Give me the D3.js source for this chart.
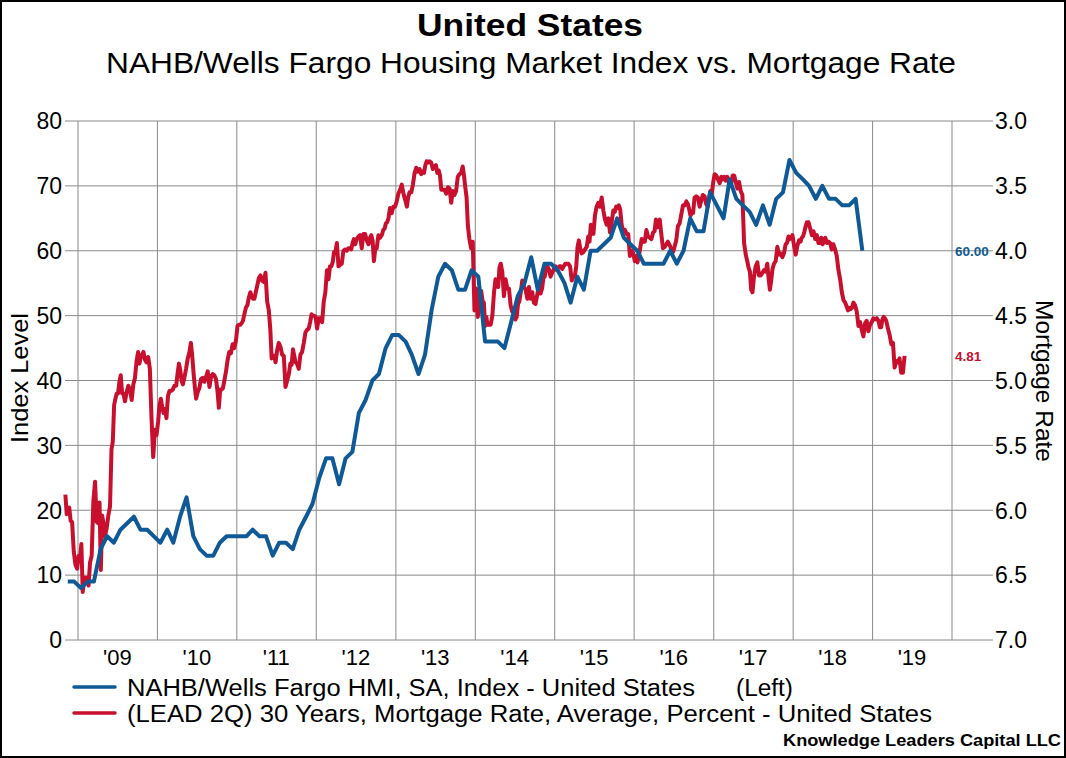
<!DOCTYPE html>
<html>
<head>
<meta charset="utf-8">
<script src="https://cdn.jsdelivr.net/npm/d3@7"></script>
<style>
  body { margin: 0; background: #fff; }
  svg { display: block; font-family: "Liberation Sans", Arial, sans-serif; }
</style>
</head>
<body>
<div id="chart"></div>
<script>
// NAHB/Wells Fargo HMI, SA, monthly, Nov 2008 .. Nov 2018
const hmiStart = "2008-11";
const hmi = [
  9, 9,
  8, 9, 9, 14, 16, 15, 17, 18, 19, 17, 17, 16,
  15, 17, 15, 19, 22, 16, 14, 13, 13, 15, 16, 16,
  16, 16, 17, 16, 16, 13, 15, 15, 14, 17, 19, 21,
  25, 28, 28, 24, 28, 29, 35, 37, 40, 41, 45, 47,
  47, 46, 44, 41, 44, 51, 56, 58, 57, 54, 54, 57,
  56, 46, 46, 46, 45, 49, 53, 55, 59, 54, 58, 58,
  57, 55, 52, 56, 54, 60, 60, 61, 62, 65, 62, 61,
  60, 58, 58, 58, 58, 60, 58, 60, 65, 63, 63, 69,
  67, 65, 71, 68, 67, 66, 64, 67, 64, 68, 69, 74,
  72, 71, 70, 68, 70, 68, 68, 67, 67, 68, 60
];

// 30y mortgage rate, weekly readings grouped by month, May 2008 .. Nov 2018
// (plotted with a 2 quarter lead)
const rateStart = "2008-05";
const rateLeadMonths = 6;
const rates = [
  [5.88, 6.03, 6.01, 5.98, 6.08], [6.09, 6.32, 6.42, 6.45], [6.35, 6.37, 6.26, 6.63, 6.52],
  [6.52, 6.52, 6.58, 6.40], [6.35, 5.93, 5.78, 6.09], [6.10, 5.94, 6.46, 6.04, 6.10],
  [6.20, 6.14, 6.04, 5.97], [5.53, 5.47, 5.19, 5.14, 5.10],
  // 2009
  [5.10, 5.01, 4.96, 5.10, 5.10], [5.16, 5.09, 5.04, 5.07], [5.15, 5.03, 4.98, 4.85],
  [4.78, 4.87, 4.82, 4.80, 4.78], [4.84, 4.86, 4.82, 4.91], [5.29, 5.59, 5.38, 5.42],
  [5.32, 5.20, 5.14, 5.20, 5.25], [5.22, 5.29, 5.12, 5.08], [5.08, 5.07, 5.04, 5.04],
  [4.94, 4.87, 4.92, 5.00, 5.03], [4.98, 4.91, 4.83, 4.78], [4.71, 4.81, 4.94, 5.05, 5.14],
  // 2010
  [5.09, 5.06, 4.99, 4.98], [5.01, 4.97, 4.93, 5.05], [4.97, 4.95, 4.96, 4.99],
  [5.08, 5.21, 5.07, 5.07, 5.06], [5.00, 4.93, 4.84, 4.78], [4.79, 4.72, 4.75, 4.69],
  [4.58, 4.57, 4.57, 4.56, 4.54], [4.49, 4.44, 4.42, 4.36], [4.32, 4.35, 4.37, 4.37, 4.32],
  [4.27, 4.21, 4.19, 4.23], [4.24, 4.17, 4.39, 4.46], [4.61, 4.83, 4.81, 4.81, 4.86],
  // 2011
  [4.77, 4.71, 4.74, 4.80], [4.81, 5.05, 5.00, 4.95], [4.87, 4.88, 4.76, 4.81, 4.86],
  [4.87, 4.91, 4.80, 4.78], [4.71, 4.63, 4.61, 4.60], [4.55, 4.49, 4.50, 4.50, 4.51],
  [4.60, 4.52, 4.52, 4.55], [4.39, 4.32, 4.15, 4.22], [4.12, 4.12, 4.09, 4.01, 4.01],
  [3.94, 4.12, 4.11, 4.10], [4.00, 3.99, 4.00, 3.98], [3.98, 3.99, 3.94, 3.91, 3.95],
  // 2012
  [3.91, 3.89, 3.88, 3.98], [3.87, 3.87, 3.92, 3.95], [3.90, 3.88, 3.92, 4.08, 3.99],
  [3.98, 3.88, 3.90, 3.88], [3.84, 3.83, 3.79, 3.78, 3.75], [3.67, 3.71, 3.66, 3.66],
  [3.62, 3.56, 3.53, 3.49], [3.55, 3.59, 3.62, 3.66, 3.59], [3.55, 3.55, 3.49, 3.40],
  [3.36, 3.39, 3.37, 3.41], [3.39, 3.40, 3.34, 3.31, 3.32], [3.31, 3.32, 3.37, 3.35],
  // 2013
  [3.34, 3.40, 3.38, 3.42, 3.53], [3.53, 3.53, 3.56, 3.51], [3.52, 3.63, 3.54, 3.57],
  [3.54, 3.43, 3.41, 3.40], [3.35, 3.42, 3.51, 3.59, 3.81], [3.91, 3.98, 3.93, 4.46],
  [4.29, 4.51, 4.37, 4.31], [4.39, 4.40, 4.58, 4.51, 4.57], [4.57, 4.57, 4.50, 4.32],
  [4.22, 4.23, 4.28, 4.13, 4.10], [4.16, 4.35, 4.22, 4.29], [4.29, 4.42, 4.47, 4.48],
  // 2014
  [4.53, 4.51, 4.41, 4.39, 4.32], [4.23, 4.28, 4.30, 4.37], [4.28, 4.37, 4.32, 4.40],
  [4.41, 4.34, 4.27, 4.33], [4.29, 4.21, 4.20, 4.14, 4.12], [4.14, 4.20, 4.17, 4.14],
  [4.12, 4.15, 4.13, 4.12, 4.12], [4.14, 4.12, 4.10, 4.10], [4.10, 4.12, 4.23, 4.20],
  [4.19, 4.12, 3.97, 3.92, 3.98], [4.02, 4.01, 3.99, 3.97], [3.89, 3.93, 3.80, 3.83, 3.87],
  // 2015
  [3.73, 3.66, 3.63, 3.66], [3.59, 3.69, 3.76, 3.80], [3.75, 3.86, 3.78, 3.69],
  [3.70, 3.66, 3.67, 3.65, 3.68], [3.80, 3.85, 3.84, 3.87], [3.87, 4.04, 4.00, 4.02],
  [4.08, 4.04, 4.09, 4.04, 3.98], [3.91, 3.93, 3.93, 3.84], [3.89, 3.90, 3.91, 3.86],
  [3.85, 3.76, 3.82, 3.79, 3.76], [3.87, 3.98, 3.97, 3.95], [3.93, 3.95, 3.97, 4.01, 4.01],
  // 2016
  [3.97, 3.92, 3.81, 3.79], [3.72, 3.65, 3.65, 3.62], [3.64, 3.68, 3.73, 3.71, 3.71],
  [3.59, 3.58, 3.59, 3.66], [3.61, 3.57, 3.58, 3.64], [3.66, 3.60, 3.54, 3.56, 3.48],
  [3.41, 3.42, 3.45, 3.48], [3.43, 3.45, 3.43, 3.46], [3.43, 3.46, 3.50, 3.48, 3.42],
  [3.42, 3.47, 3.52, 3.47], [3.54, 3.57, 3.94, 4.03], [4.08, 4.13, 4.16, 4.30, 4.32],
  // 2017
  [4.20, 4.12, 4.09, 4.19], [4.19, 4.17, 4.15, 4.16], [4.10, 4.21, 4.30, 4.23, 4.14],
  [4.10, 4.08, 3.97, 4.03], [4.02, 4.05, 4.02, 3.95], [3.94, 3.89, 3.91, 3.90, 3.88],
  [3.96, 4.03, 3.96, 3.92], [3.93, 3.90, 3.89, 3.86, 3.82], [3.78, 3.78, 3.83, 3.88],
  [3.85, 3.91, 3.88, 3.94], [3.94, 3.90, 3.95, 3.92, 3.90], [3.94, 3.93, 3.94, 3.99],
  // 2018
  [3.95, 3.99, 4.04, 4.15], [4.22, 4.32, 4.38, 4.40], [4.43, 4.46, 4.44, 4.45, 4.44],
  [4.40, 4.42, 4.47, 4.58], [4.55, 4.61, 4.66, 4.56], [4.54, 4.62, 4.57, 4.55],
  [4.52, 4.53, 4.52, 4.54], [4.59, 4.59, 4.53, 4.51, 4.52], [4.54, 4.60, 4.65, 4.72],
  [4.71, 4.90, 4.85, 4.86], [4.83, 4.94, 4.94, 4.81]
];

const years = d3.range(2009, 2021);
const leftTicks = d3.range(0, 81, 10);
const rightTicks = d3.range(3, 7.01, 0.5);
const hmiLast = "60.00";
const rateLast = "4.81";

const blue = "#0f5a96", red = "#c8102e", grid = "#8a8a8a";
const W = 1066, H = 758;
const plot = { left: 78, right: 952, top: 121, bottom: 640, gridL: 65, gridR: 993 };

const svg = d3.select("#chart").append("svg").attr("width", W).attr("height", H);
svg.append("rect").attr("x", 1).attr("y", 1).attr("width", W - 2).attr("height", H - 2)
  .attr("fill", "#fff").attr("stroke", "#000").attr("stroke-width", 2);

const x = d3.scaleTime()
  .domain([new Date(2009, 0, 1), new Date(2020, 0, 1)])
  .range([plot.left, plot.right]);
const yL = d3.scaleLinear().domain([0, 80]).range([plot.bottom, plot.top]);
const yR = d3.scaleLinear().domain([3, 7]).range([plot.top, plot.bottom]);

// gridlines
svg.append("g").selectAll("line").data(leftTicks).join("line")
  .attr("x1", plot.gridL).attr("x2", plot.gridR)
  .attr("y1", d => yL(d)).attr("y2", d => yL(d))
  .attr("stroke", grid).attr("stroke-width", 1);
svg.append("g").selectAll("line").data(years).join("line")
  .attr("x1", d => x(new Date(d, 0, 1))).attr("x2", d => x(new Date(d, 0, 1)))
  .attr("y1", plot.top).attr("y2", plot.bottom)
  .attr("stroke", grid).attr("stroke-width", 1);

// tick labels
svg.append("g").selectAll("text").data(leftTicks).join("text")
  .attr("x", 62).attr("y", d => yL(d)).attr("dy", "0.36em")
  .attr("text-anchor", "end").attr("font-size", 23).text(d => d);
svg.append("g").selectAll("text").data(rightTicks).join("text")
  .attr("x", 995).attr("y", d => yR(d)).attr("dy", "0.36em")
  .attr("font-size", 23).text(d => d.toFixed(1));
svg.append("g").selectAll("text").data(years.slice(0, -1)).join("text")
  .attr("x", d => x(new Date(d, 6, 1))).attr("y", 665)
  .attr("text-anchor", "middle").attr("font-size", 22)
  .text(d => "'" + String(d).slice(2));

// axis titles
svg.append("text").attr("transform", "translate(28,378) rotate(-90)")
  .attr("text-anchor", "middle").attr("font-size", 24)
  .attr("textLength", 130).attr("lengthAdjust", "spacingAndGlyphs").text("Index Level");
svg.append("text").attr("transform", "translate(1036,381) rotate(90)")
  .attr("text-anchor", "middle").attr("font-size", 24)
  .attr("textLength", 162).attr("lengthAdjust", "spacingAndGlyphs").text("Mortgage Rate");

// series
const parseMonth = d3.timeParse("%Y-%m");
const hmi0 = parseMonth(hmiStart);
const hmiData = hmi.map((v, i) => {
  const m = d3.timeMonth.offset(hmi0, i);
  return { date: new Date(m.getFullYear(), m.getMonth(), 15), value: v };
});

const rate0 = parseMonth(rateStart);
const rateData = [];
rates.forEach((weeks, i) => {
  const m0 = d3.timeMonth.offset(rate0, i + rateLeadMonths);
  const m1 = d3.timeMonth.offset(m0, 1);
  weeks.forEach((v, j) => {
    const t = m0.getTime() + (m1 - m0) * (j + 0.5) / weeks.length;
    rateData.push({ date: new Date(t), value: v });
  });
});

svg.append("path").datum(rateData)
  .attr("fill", "none").attr("stroke", red).attr("stroke-width", 4)
  .attr("stroke-linejoin", "round")
  .attr("d", d3.line().x(d => x(d.date)).y(d => yR(d.value)));

svg.append("path").datum(hmiData)
  .attr("fill", "none").attr("stroke", blue).attr("stroke-width", 4)
  .attr("stroke-linejoin", "round")
  .attr("d", d3.line().x(d => x(d.date)).y(d => yL(d.value)));

// last value labels
svg.append("text").attr("x", 955).attr("y", yL(+hmiLast)).attr("dy", "0.36em")
  .attr("font-size", 13.5).attr("font-weight", "bold").attr("fill", blue).text(hmiLast);
svg.append("text").attr("x", 955).attr("y", yR(+rateLast)).attr("dy", "0.36em")
  .attr("font-size", 13.5).attr("font-weight", "bold").attr("fill", red).text(rateLast);

// titles
svg.append("text").attr("x", 417).attr("y", 36).attr("font-size", 32).attr("font-weight", "bold")
  .attr("textLength", 226).attr("lengthAdjust", "spacingAndGlyphs").text("United States");
svg.append("text").attr("x", 106).attr("y", 73).attr("font-size", 29)
  .attr("textLength", 850).attr("lengthAdjust", "spacingAndGlyphs")
  .text("NAHB/Wells Fargo Housing Market Index vs. Mortgage Rate");

// legend
const legend = svg.append("g");
[
  { color: blue, y: 687, label: "NAHB/Wells Fargo HMI, SA, Index - United States", len: 568 },
  { color: red, y: 713, label: "(LEAD 2Q) 30 Years, Mortgage Rate, Average, Percent - United States", len: 805 }
].forEach(d => {
  legend.append("line").attr("x1", 74).attr("x2", 115).attr("y1", d.y).attr("y2", d.y)
    .attr("stroke", d.color).attr("stroke-width", 3.5).attr("stroke-linecap", "round");
  legend.append("text").attr("x", 127).attr("y", d.y + 9).attr("font-size", 23)
    .attr("textLength", d.len).attr("lengthAdjust", "spacingAndGlyphs").text(d.label);
});
legend.append("text").attr("x", 736).attr("y", 696).attr("font-size", 23)
  .attr("textLength", 57).attr("lengthAdjust", "spacingAndGlyphs").text("(Left)");

svg.append("text").attr("x", 783).attr("y", 746)
  .attr("font-size", 17).attr("font-weight", "bold")
  .attr("textLength", 278).attr("lengthAdjust", "spacingAndGlyphs")
  .text("Knowledge Leaders Capital LLC");
</script>
</body>
</html>
